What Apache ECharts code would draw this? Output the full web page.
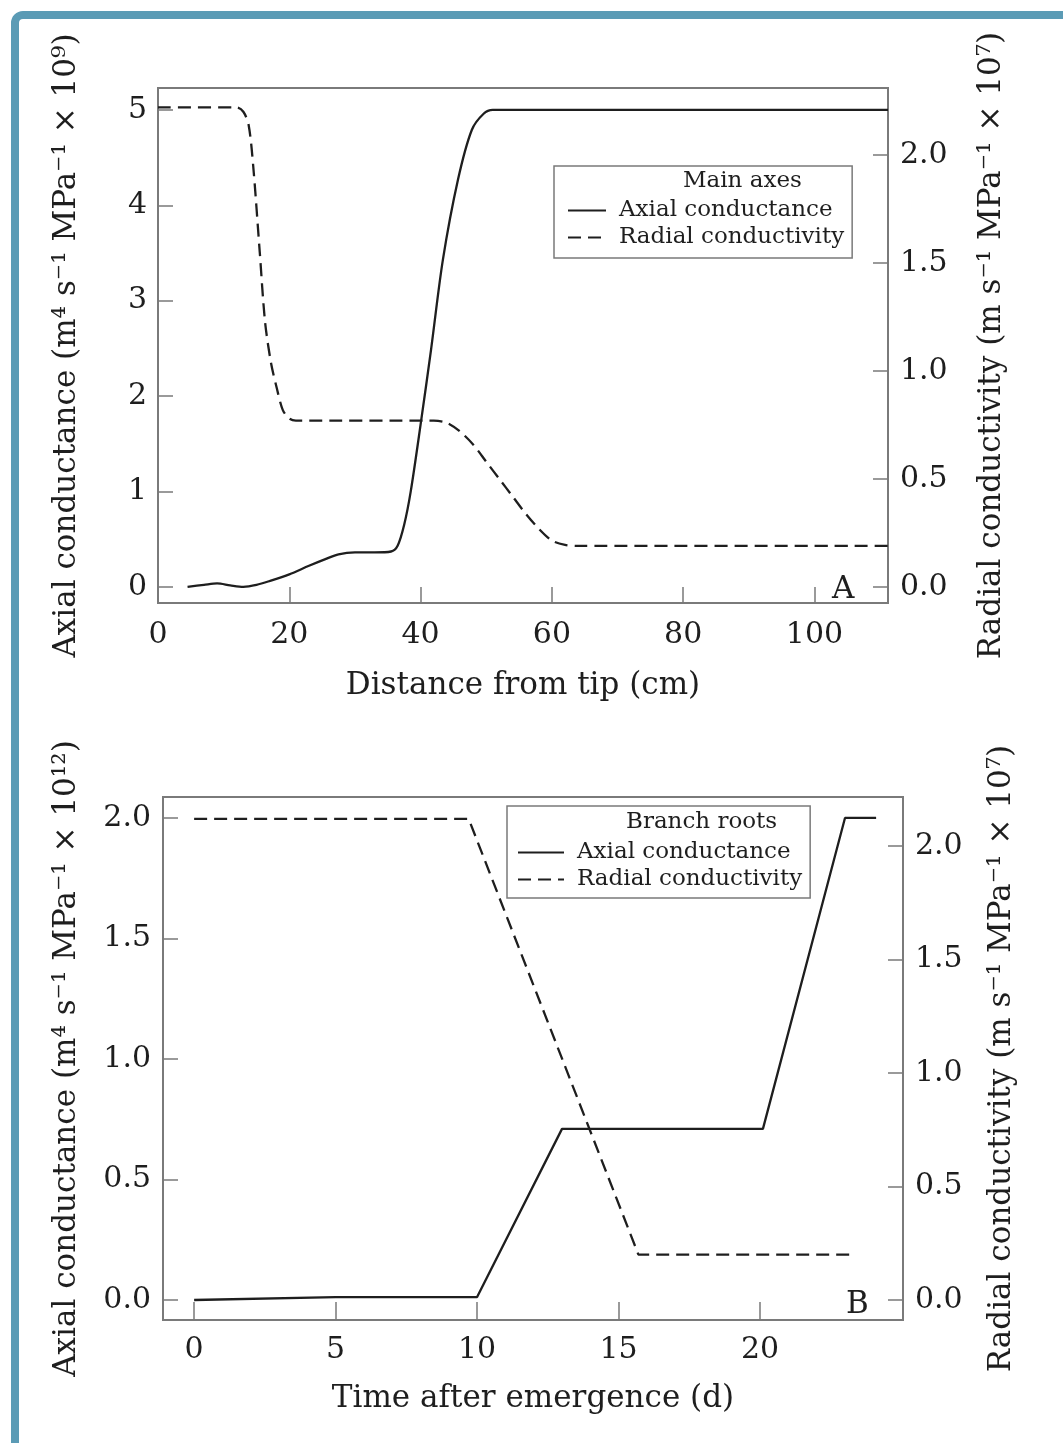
<!DOCTYPE html>
<html>
<head>
<meta charset="utf-8">
<script src="https://cdn.jsdelivr.net/npm/echarts@6/dist/echarts.min.js"></script>
<style>
html, body { margin: 0; padding: 0; background: #fff; }
#chart { width: 1063px; height: 1443px; }
</style>
</head>
<body>
<div id="chart"></div>
<script>
// Panel A: main axes, distance from tip (cm)
var axialMain = [
    [4.5, 0.0], [7, 0.02], [9, 0.035], [11, 0.015], [13, 0.0], [15, 0.02], [17, 0.06],
    [20, 0.13], [23, 0.22], [25.5, 0.29], [27.5, 0.34], [30, 0.36], [33, 0.36], [35.5, 0.37],
    [36.5, 0.43], [37.5, 0.65], [38.5, 1.0], [40, 1.7], [41.6, 2.49], [43.4, 3.43],
    [45.7, 4.27], [47.8, 4.79], [49.6, 4.96], [51, 5.0], [55, 5.0], [111.2, 5.0]
];
var radialMain = [
    [0, 2.22], [12, 2.22], [13, 2.2], [13.8, 2.14], [14.5, 1.95], [15.5, 1.55], [16.3, 1.23],
    [17.2, 1.04], [18.1, 0.92], [19, 0.82], [20, 0.78], [21, 0.77], [42, 0.77], [44, 0.76],
    [46, 0.72], [48, 0.66], [50, 0.58], [52, 0.5], [54, 0.42], [56, 0.34], [58, 0.27],
    [60, 0.215], [62, 0.195], [64, 0.19], [111.2, 0.19]
];
var distTicks = [0, 20, 40, 60, 80, 100];
var axialMainTicks = [0, 1, 2, 3, 4, 5];
var radialMainTicks = [0, 0.5, 1, 1.5, 2];

// Panel B: branch roots, time after emergence (d)
var axialBranch = [[0, 0], [5, 0.012], [10, 0.012], [13, 0.71], [20.1, 0.71], [23, 2.0], [24.1, 2.0]];
var radialBranch = [[0, 2.12], [9.7, 2.12], [15.7, 0.2], [23.2, 0.2]];
var timeTicks = [0, 5, 10, 15, 20];
var axialBranchTicks = [0, 0.5, 1, 1.5, 2];
var radialBranchTicks = [0, 0.5, 1, 1.5, 2];

var seriesNames = ['Axial conductance', 'Radial conductivity'];

var FONT = 'DejaVu Serif';
var INK = '#1e1e1e';
var BOX = '#7a7a7a';

function valueAxis(o) {
    return Object.assign({
        type: 'value',
        nameLocation: 'middle',
        nameTextStyle: { fontFamily: FONT, fontSize: 31, color: INK },
        axisLine: { show: false, onZero: false },
        splitLine: { show: false },
        axisTick: { show: true, inside: true, length: o.tickLen || 15, customValues: o.ticks,
                    lineStyle: { color: BOX, width: 1.5 } },
        axisLabel: { customValues: o.ticks, fontFamily: FONT, fontSize: 30, color: INK,
                     margin: o.margin, formatter: o.fmt }
    }, o.extra);
}

var int = function (v) { return String(v); };
var one = function (v) { return v.toFixed(1); };

var legendBase = {
    data: seriesNames, orient: 'vertical', itemHeight: 14, itemGap: 4,
    borderColor: BOX, borderWidth: 1.5, selectedMode: false,
    itemStyle: { opacity: 0 },
    textStyle: { fontFamily: FONT, fontSize: 23, color: INK, padding: [0, 0, 0, 8] }
};

var myChart = echarts.init(document.getElementById('chart'));
var option = {
    backgroundColor: '#fff',
    animation: false,
    grid: [
        { left: 158, top: 88, width: 730, height: 515, show: true, borderColor: BOX, borderWidth: 2 },
        { left: 163, top: 797, width: 740, height: 523, show: true, borderColor: BOX, borderWidth: 2 }
    ],
    xAxis: [
        valueAxis({ ticks: distTicks, margin: 17, fmt: int, tickLen: 16, extra: {
            gridIndex: 0, min: 0, max: 111.2, name: 'Distance from tip (cm)', nameGap: 67 } }),
        valueAxis({ ticks: timeTicks, margin: 15, fmt: int, tickLen: 18, extra: {
            gridIndex: 1, min: -1.1, max: 25.05, name: 'Time after emergence (d)', nameGap: 63 } })
    ],
    yAxis: [
        valueAxis({ ticks: axialMainTicks, margin: 11, fmt: int, extra: {
            gridIndex: 0, position: 'left', min: -0.17, max: 5.23, nameRotate: 90, nameGap: 76,
            name: 'Axial conductance (m⁴ s⁻¹ MPa⁻¹ × 10⁹)' } }),
        valueAxis({ ticks: radialMainTicks, margin: 12, fmt: one, extra: {
            gridIndex: 0, position: 'right', min: -0.074, max: 2.31, nameRotate: 90, nameGap: 88,
            name: 'Radial conductivity (m s⁻¹ MPa⁻¹ × 10⁷)' } }),
        valueAxis({ ticks: axialBranchTicks, margin: 12, fmt: one, extra: {
            gridIndex: 1, position: 'left', min: -0.083, max: 2.087, nameRotate: 90, nameGap: 81,
            name: 'Axial conductance (m⁴ s⁻¹ MPa⁻¹ × 10¹²)' } }),
        valueAxis({ ticks: radialBranchTicks, margin: 12, fmt: one, extra: {
            gridIndex: 1, position: 'right', min: -0.088, max: 2.216, nameRotate: 90, nameGap: 83,
            name: 'Radial conductivity (m s⁻¹ MPa⁻¹ × 10⁷)' } })
    ],
    legend: [
        Object.assign({}, legendBase, { left: 554, top: 166, itemWidth: 38, padding: [33, 8, 9, 13] }),
        Object.assign({}, legendBase, { left: 507, top: 806, itemWidth: 46, padding: [35, 8, 7, 10] })
    ],
    graphic: [
        { type: 'rect', left: 11, top: 11, shape: { width: 1200, height: 1600, r: 8 }, z: 100,
          style: { fill: 'none', stroke: '#5b9bb5', lineWidth: 8 } },
        { type: 'text', left: 683, top: 170, z: 100,
          style: { text: 'Main axes', font: '23px "DejaVu Serif"', fill: INK } },
        { type: 'text', left: 626, top: 811, z: 100,
          style: { text: 'Branch roots', font: '23px "DejaVu Serif"', fill: INK } },
        { type: 'text', left: 832, top: 574, z: 100,
          style: { text: 'A', font: '31px "DejaVu Serif"', fill: INK } },
        { type: 'text', left: 846, top: 1289, z: 100,
          style: { text: 'B', font: '31px "DejaVu Serif"', fill: INK } }
    ],
    series: [
        { name: seriesNames[0], type: 'line', xAxisIndex: 0, yAxisIndex: 0, data: axialMain,
          symbol: 'none', smooth: 0.3, color: INK, lineStyle: { color: INK, width: 2.3 } },
        { name: seriesNames[1], type: 'line', xAxisIndex: 0, yAxisIndex: 1, data: radialMain,
          symbol: 'none', smooth: 0.3, color: INK, lineStyle: { color: INK, width: 2.3, type: [13, 7] } },
        { name: seriesNames[0], type: 'line', xAxisIndex: 1, yAxisIndex: 2, data: axialBranch,
          symbol: 'none', color: INK, lineStyle: { color: INK, width: 2.3 } },
        { name: seriesNames[1], type: 'line', xAxisIndex: 1, yAxisIndex: 3, data: radialBranch,
          symbol: 'none', color: INK, lineStyle: { color: INK, width: 2.3, type: [13, 7] } }
    ]
};
myChart.setOption(option);
</script>
</body>
</html>
